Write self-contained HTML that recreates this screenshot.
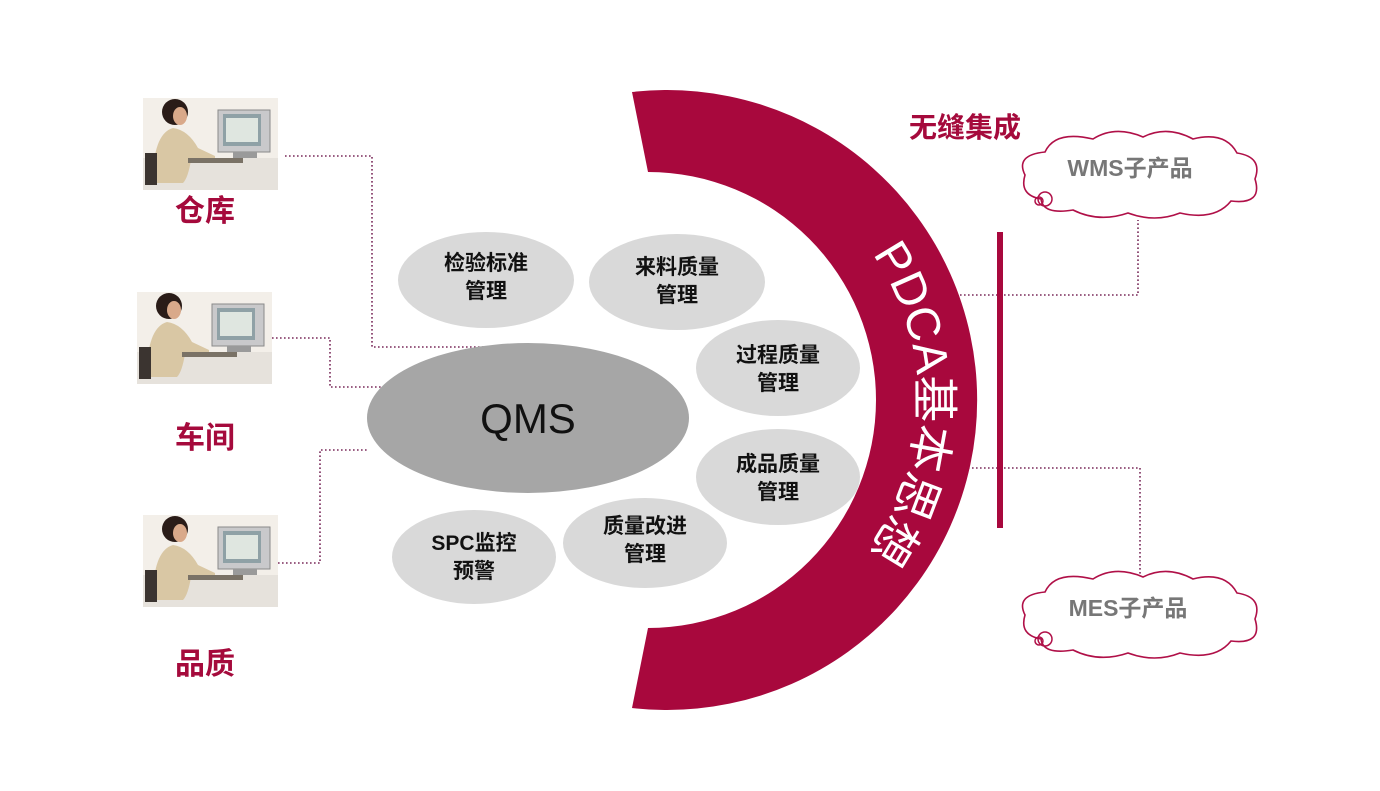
<!DOCTYPE html>
<html><head><meta charset="utf-8"><style>
html,body{margin:0;padding:0;background:#fff;}
svg{display:block;}
text{font-family:"Liberation Sans","Noto Sans CJK SC",sans-serif;}
</style></head><body>
<svg width="1380" height="791" viewBox="0 0 1380 791" xmlns="http://www.w3.org/2000/svg" xmlns:xlink="http://www.w3.org/1999/xlink">
<defs>
<g id="person">
  <rect x="0" y="0" width="135" height="92" fill="#f3efe9"/>
  <rect x="0" y="60" width="135" height="32" fill="#e6e2dc"/>
  <rect x="75" y="12" width="52" height="42" fill="#c9c9cb" stroke="#8a8a8a"/>
  <rect x="80" y="16" width="38" height="32" fill="#8fa1a6"/>
  <rect x="83" y="20" width="32" height="24" fill="#dfe6e0"/>
  <rect x="90" y="54" width="24" height="6" fill="#9a9a9a"/>
  <ellipse cx="32" cy="14" rx="13" ry="13" fill="#2a1c18"/>
  <ellipse cx="37" cy="18" rx="7" ry="9" fill="#d9a98a"/>
  <path d="M10,75 Q12,35 30,30 Q45,32 55,50 L72,58 L72,65 L48,62 Q45,80 40,85 L10,85 Z" fill="#d9c7a4"/>
  <rect x="2" y="55" width="12" height="32" fill="#3b3430"/>
  <rect x="45" y="60" width="55" height="5" fill="#7a7266"/>
</g>
<g id="cloud">
  <path d="M30,25 Q40,3 78,12 Q100,-2 128,10 Q152,-2 178,12 Q210,4 222,26 Q248,30 240,52 Q248,78 216,74 Q200,94 165,86 Q140,96 113,86 Q84,96 58,83 Q28,88 26,72 Q4,68 10,48 Q0,28 30,25 Z" fill="#fff" stroke="#b01048" stroke-width="1.6"/>
  <circle cx="30" cy="72" r="7" fill="none" stroke="#b01048" stroke-width="1.5"/>
  <circle cx="24" cy="74" r="4" fill="none" stroke="#b01048" stroke-width="1.5"/>
</g>
<path id="tp" d="M662,144 A256,256 0 0 1 662,656" fill="none"/>
</defs>

<g fill="none" stroke="#7a2a5a" stroke-width="1.6" stroke-dasharray="1.6 2.4">
  <polyline points="285,156 372,156 372,347 485,347"/>
  <polyline points="272,338 330,338 330,387 390,387"/>
  <polyline points="278,563 320,563 320,450 368,450"/>
  <polyline points="960,295 1138,295 1138,220"/>
  <polyline points="960,468 1140,468 1140,578"/>
</g>

<use xlink:href="#person" x="143" y="98"/>
<use xlink:href="#person" x="137" y="292"/>
<use xlink:href="#person" x="143" y="515"/>

<g font-size="30" font-weight="bold" fill="#a50a3c" text-anchor="middle">
  <text x="205" y="221">仓库</text>
  <text x="205" y="448">车间</text>
  <text x="205" y="674">品质</text>
</g>

<path d="M632,92 A310,310 0 1 1 632,708 L648,628 A228,228 0 1 0 648,172 Z" fill="#a8083d"/>
<text font-size="47" fill="#fff" text-anchor="middle"><textPath xlink:href="#tp" href="#tp" startOffset="50.5%">PDCA基本思想</textPath></text>

<ellipse cx="528" cy="418" rx="161" ry="75" fill="#a6a6a6"/>
<text x="528" y="433" font-size="42" text-anchor="middle" fill="#111">QMS</text>
<g fill="#d9d9d9">
  <ellipse cx="486" cy="280" rx="88" ry="48"/>
  <ellipse cx="677" cy="282" rx="88" ry="48"/>
  <ellipse cx="778" cy="368" rx="82" ry="48"/>
  <ellipse cx="778" cy="477" rx="82" ry="48"/>
  <ellipse cx="645" cy="543" rx="82" ry="45"/>
  <ellipse cx="474" cy="557" rx="82" ry="47"/>
</g>
<g font-size="21" font-weight="bold" fill="#111" text-anchor="middle">
  <text x="486" y="270">检验标准</text><text x="486" y="298">管理</text>
  <text x="677" y="274">来料质量</text><text x="677" y="302">管理</text>
  <text x="778" y="362">过程质量</text><text x="778" y="390">管理</text>
  <text x="778" y="471">成品质量</text><text x="778" y="499">管理</text>
  <text x="645" y="533">质量改进</text><text x="645" y="561">管理</text>
  <text x="474" y="550">SPC监控</text><text x="474" y="578">预警</text>
</g>

<text x="965" y="137" font-size="28" font-weight="bold" fill="#a50a3c" text-anchor="middle">无缝集成</text>
<rect x="997" y="232" width="6" height="296" fill="#a8083d"/>
<use xlink:href="#cloud" x="1015" y="127"/>
<use xlink:href="#cloud" x="1015" y="567"/>
<g font-size="23" fill="#777" text-anchor="middle" font-weight="bold">
  <text x="1130" y="176">WMS子产品</text>
  <text x="1128" y="616">MES子产品</text>
</g>
</svg>
</body></html>
